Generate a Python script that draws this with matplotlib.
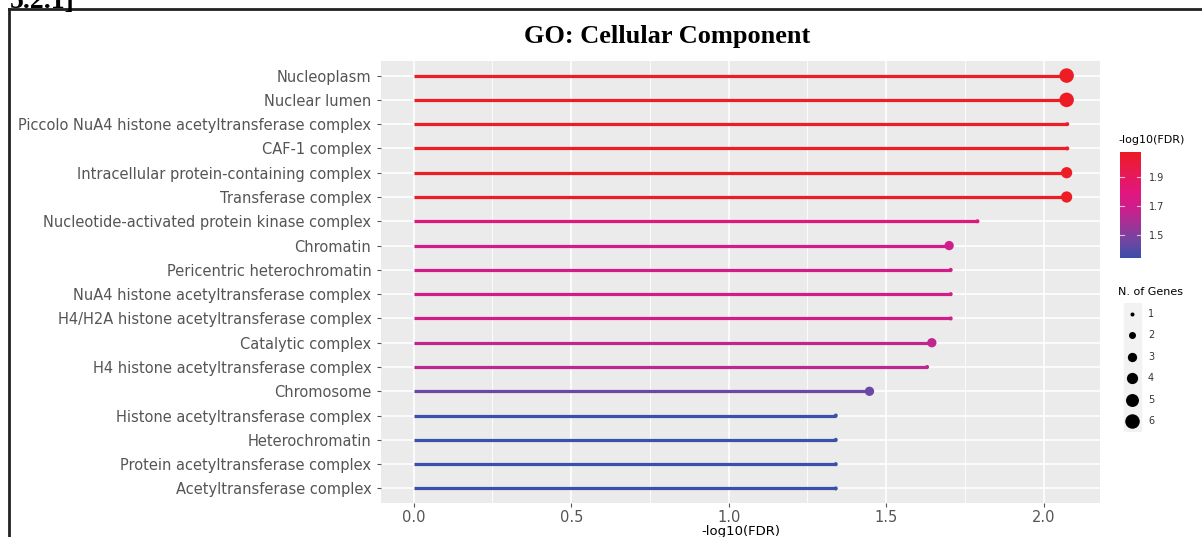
import numpy as np
import matplotlib
matplotlib.use("Agg")
import matplotlib.pyplot as plt
from matplotlib.colors import LinearSegmentedColormap, Normalize
from matplotlib.lines import Line2D

# GO terms, top to bottom
terms = [
    "Nucleoplasm",
    "Nuclear lumen",
    "Piccolo NuA4 histone acetyltransferase complex",
    "CAF-1 complex",
    "Intracellular protein-containing complex",
    "Transferase complex",
    "Nucleotide-activated protein kinase complex",
    "Chromatin",
    "Pericentric heterochromatin",
    "NuA4 histone acetyltransferase complex",
    "H4/H2A histone acetyltransferase complex",
    "Catalytic complex",
    "H4 histone acetyltransferase complex",
    "Chromosome",
    "Histone acetyltransferase complex",
    "Heterochromatin",
    "Protein acetyltransferase complex",
    "Acetyltransferase complex",
]
neg_log_fdr = [2.073, 2.073, 2.075, 2.075, 2.073, 2.073, 1.79, 1.70, 1.705, 1.705,
               1.705, 1.645, 1.63, 1.447, 1.34, 1.34, 1.34, 1.34]
n_genes = [6, 6, 1, 1, 4, 4, 1, 3, 1, 1, 1, 3, 1, 3, 1, 1, 1, 1]

cbar_ticks = [1.5, 1.7, 1.9]
size_levels = [1, 2, 3, 4, 5, 6]

W, H = 1202, 537
fig = plt.figure(figsize=(W / 100, H / 100), dpi=100)
fig.patch.set_facecolor("white")

cmap = LinearSegmentedColormap.from_list(
    "fdr", [(0.0, "#3A50AA"), (0.15, "#6E47A3"), (0.42, "#C2258F"),
            (0.5, "#D21C8A"), (0.62, "#E2177E"), (1.0, "#EE1C25")])
norm = Normalize(vmin=min(neg_log_fdr), vmax=max(neg_log_fdr))


def dot_area(n):
    # ggplot-like area scale: diameter in px from 4 to 14.5
    d = 4 + 10.5 * (np.sqrt(n) - 1) / (np.sqrt(6) - 1)
    return (d * 0.72) ** 2


def fx(px):
    return px / W


def fy(py):
    return 1 - py / H


# main panel
ax = fig.add_axes([fx(381), fy(503), fx(1100) - fx(381), fy(61) - fy(503)])
ax.set_facecolor("#EBEBEB")
ypos = np.arange(len(terms))
ax.set_xlim(-0.104, 2.179)
ax.set_ylim(len(terms) - 0.4, -0.6)

for xv in [0.25, 0.75, 1.25, 1.75]:
    ax.axvline(xv, color="white", lw=0.6, zorder=0)
for xv in [0.0, 0.5, 1.0, 1.5, 2.0]:
    ax.axvline(xv, color="white", lw=1.2, zorder=0)
for yv in ypos:
    ax.axhline(yv, color="white", lw=1.2, zorder=0)

cols = cmap(norm(neg_log_fdr))
ax.hlines(ypos, 0, neg_log_fdr, colors=cols, lw=2.3, zorder=2)
ax.scatter(neg_log_fdr, ypos, s=[dot_area(n) for n in n_genes], c=cols,
           linewidths=0, zorder=3)

ax.set_yticks(ypos)
ax.set_yticklabels(terms)
ax.set_xticks([0.0, 0.5, 1.0, 1.5, 2.0])
ax.set_xticklabels(["0.0", "0.5", "1.0", "1.5", "2.0"])
ax.tick_params(colors="#555555", labelsize=10.5, length=3, width=0.8)
ax.tick_params(axis="y", pad=4)
ax.tick_params(axis="x", pad=2)
for lab in ax.get_xticklabels() + ax.get_yticklabels():
    lab.set_color("#555555")
for sp in ax.spines.values():
    sp.set_visible(False)
ax.set_xlabel("-log10(FDR)", fontsize=9.5, color="black", labelpad=0)

# title
fig.text(fx(667), fy(36), "GO: Cellular Component", ha="center", va="center",
         fontsize=19, fontweight="bold", family="Liberation Serif")

# colour bar
cax = fig.add_axes([fx(1120), fy(258), fx(1141) - fx(1120), fy(152) - fy(258)])
grad = np.linspace(norm.vmin, norm.vmax, 256).reshape(-1, 1)
cax.imshow(grad, aspect="auto", cmap=cmap, norm=norm, origin="lower",
           extent=[0, 1, norm.vmin, norm.vmax])
cax.set_xticks([])
cax.set_yticks(cbar_ticks)
cax.yaxis.tick_right()
cax.tick_params(axis="y", length=0, labelsize=7, colors="#333333", pad=6)
for t in cbar_ticks:
    cax.plot([0, 0.2], [t, t], color="white", lw=0.8, alpha=0.7)
    cax.plot([0.8, 1], [t, t], color="white", lw=0.8, alpha=0.7)
cax.set_xlim(0, 1)
cax.set_ylim(norm.vmin, norm.vmax)
for sp in cax.spines.values():
    sp.set_visible(False)
fig.text(fx(1118), fy(140), "-log10(FDR)", fontsize=8, color="black", va="center")

# size legend
lax = fig.add_axes([fx(1118), fy(432), fx(1200) - fx(1118), fy(303) - fy(432)])
lax.set_xlim(0, 82)
lax.set_ylim(432, 303)
lax.axis("off")
lax.add_patch(plt.Rectangle((6, 303), 17, 129, color="#F2F2F2", zorder=0))
for i, n in enumerate(size_levels):
    yy = 314 + 21.4 * i
    lax.scatter([14], [yy], s=dot_area(n), color="black", linewidths=0, zorder=2)
    lax.text(30, yy, str(n), fontsize=7, color="#333333", va="center")
fig.text(fx(1118), fy(292), "N. of Genes", fontsize=8, color="black", va="center")

# outer frame and cut-off heading
fig.add_artist(Line2D([fx(9), fx(9)], [fy(9), 0], color="#222222", lw=2))
fig.add_artist(Line2D([fx(9), 1], [fy(9), fy(9)], color="#222222", lw=2))
fig.text(fx(10), fy(8), "5.2.1]", fontsize=20, fontweight="bold",
         family="Liberation Serif", va="baseline")

fig.savefig("out.png", dpi=100)
